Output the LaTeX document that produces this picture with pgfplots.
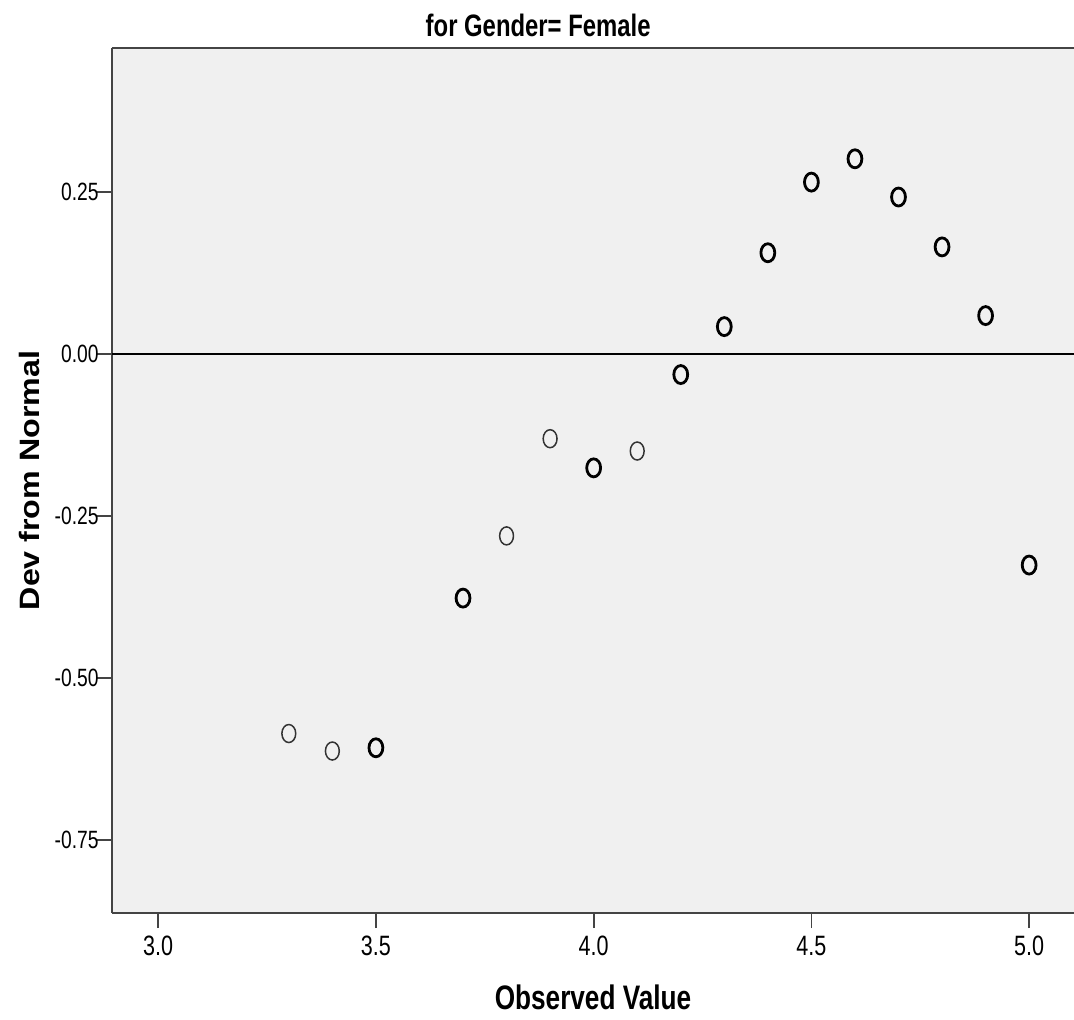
\documentclass[border=0pt]{standalone}
\usepackage{pgfplots}
\pgfplotsset{compat=1.18}
\usepackage{fontspec}
\setmainfont{Liberation Sans}
\newfontfamily\narrow[FakeStretch=0.77]{Liberation Sans}
\newfontfamily\wide[FakeStretch=1.15]{Liberation Sans}
\definecolor{bg}{HTML}{F0F0F0}
\definecolor{axc}{HTML}{444444}
\begin{document}
\begin{tikzpicture}
\begin{axis}[
  at={(0,0)}, anchor=south west,
  scale only axis, width=481pt, height=432.5pt,
  xmin=2.894, xmax=5.103, ymin=-0.863, ymax=0.472,
  axis x line*=bottom, axis y line*=left,
  axis line style={axc, line width=1pt},
  axis background/.style={fill=bg},
  xtick={3,3.5,4,4.5,5}, xticklabels={3.0,3.5,4.0,4.5,5.0},
  ytick={-0.75,-0.5,-0.25,0,0.25}, yticklabels={-0.75,-0.50,-0.25,0.00,0.25},
  tick align=outside, major tick length=7.5pt,
  tick style={axc, line width=0.9pt},
  xticklabel style={font=\narrow\fontsize{14}{16}\selectfont, inner sep=4pt},
  yticklabel style={font=\narrow\fontsize{12.5}{14}\selectfont, inner sep=0.5pt, xshift=1.5pt},
  xlabel={Observed Value}, ylabel={Dev from Normal},
  xlabel style={font=\narrow\bfseries\fontsize{17}{20}\selectfont, at={(axis description cs:0.5,-0.097)}, anchor=center},
  ylabel style={font=\wide\bfseries\fontsize{14}{16}\selectfont, at={(axis description cs:-0.0853,0.5)}, anchor=center},
  clip=false,
]
\addplot[black, line width=1pt] coordinates {(2.894,0) (5.103,0)};
\addplot[only marks, mark=o, mark size=4.5pt, mark options={xscale=0.77, line width=0.75pt, draw=black!80}] coordinates {
(3.3,-0.586) (3.4,-0.613) (3.8,-0.281) (3.9,-0.131) (4.1,-0.150)
};
\addplot[only marks, mark=o, mark size=4.5pt, mark options={xscale=0.77, line width=1.4pt, draw=black}] coordinates {
(3.5,-0.608) (3.7,-0.377) (4.0,-0.176) (4.2,-0.032) (4.3,0.042) (4.4,0.156) (4.5,0.265) (4.6,0.301) (4.7,0.242) (4.8,0.165) (4.9,0.059) (5.0,-0.326)
};
\draw[axc, line width=1pt] (rel axis cs:0,1) -- (rel axis cs:1,1);
\node[font=\narrow\bfseries\fontsize{15.5}{18}\selectfont] at (rel axis cs:0.443,1) [yshift=11.5pt] {for Gender= Female};
\end{axis}
\pgfresetboundingbox
\path (-56pt,-53pt) rectangle (481pt,456.5pt);
\end{tikzpicture}
\end{document}
